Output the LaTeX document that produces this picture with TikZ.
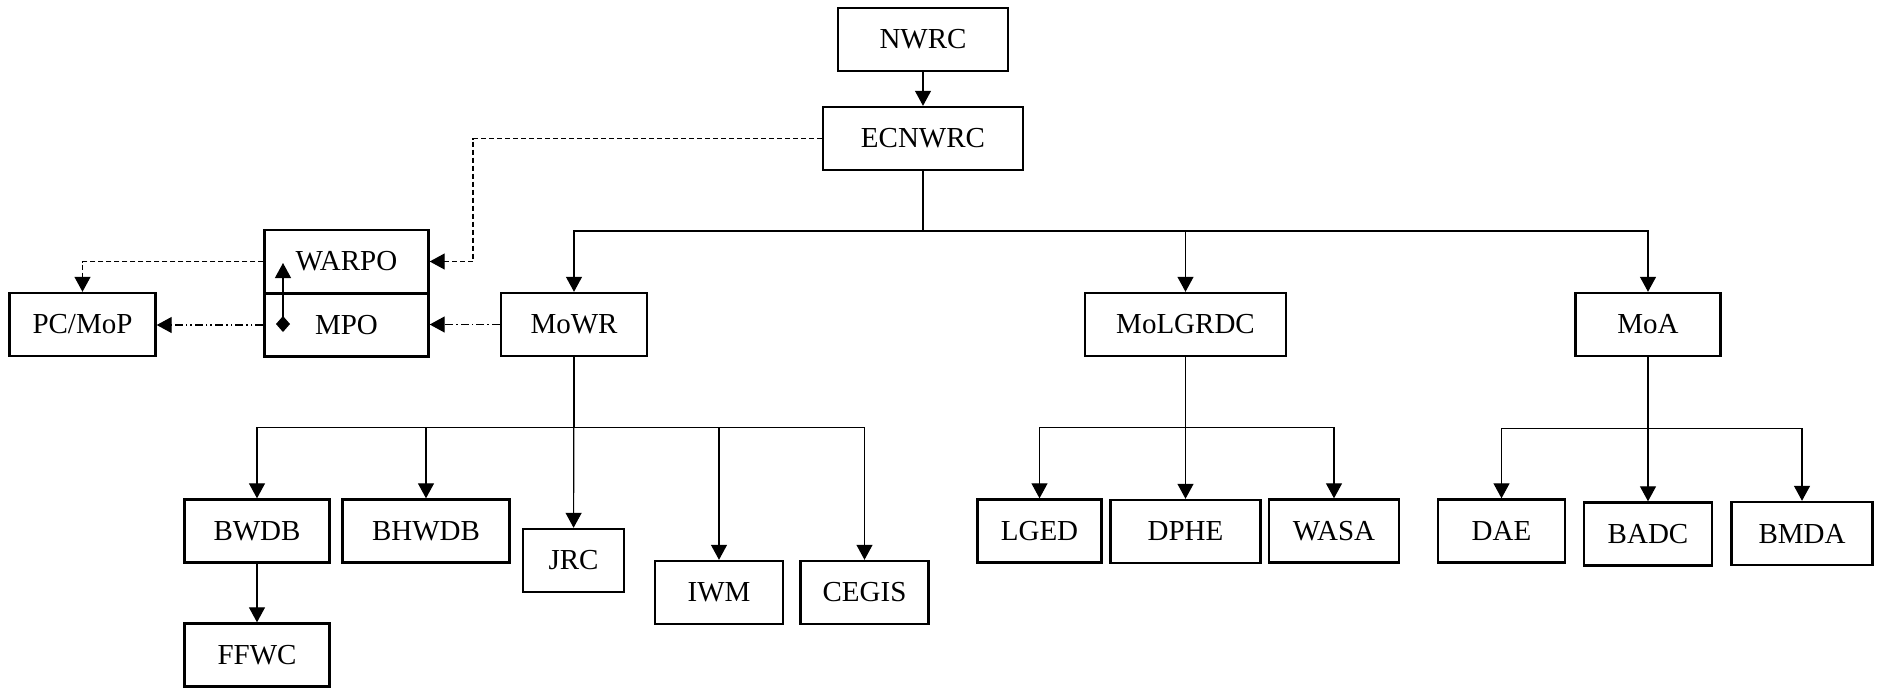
\documentclass[tikz,border=0pt]{standalone}
\usepackage{fontspec}
\setmainfont{Liberation Serif}
\usetikzlibrary{arrows.meta}

\tikzset{
  org/.style={draw, line width=1.2pt, inner sep=0pt, minimum height=31.5pt,
    font=\fontsize{14.5}{17}\selectfont},
  link/.style={line width=0.6pt, -{Triangle[length=7.5pt,width=8pt]}},
  dashlink/.style={link, dash pattern=on 2.5pt off 1.5pt},
  dotlink/.style={link, dash pattern=on 4pt off 1.5pt on 0.8pt off 1.5pt},
  dotdotlink/.style={link, dash pattern=on 4pt off 1.5pt on 0.8pt off 1.5pt on 0.8pt off 1.5pt}
}

\begin{document}
\begin{tikzpicture}[x=0.5pt, y=-0.5pt]
            \useasboundingbox (0,0) rectangle (1879,687);

            % top level
            \node[org, minimum width=85pt] (nwrc) at (923,39.5) {NWRC};
            \node[org, minimum width=100pt] (ecnwrc) at (923,138.5) {ECNWRC};

            % ministries
            \node[org, minimum width=82pt] (warpo) at (346.5,261.5) {WARPO};
            \node[org, minimum width=82pt] (mpo) at (346.5,325) {MPO};
            \node[org, minimum width=73pt] (pcmop) at (82.5,324.5) {PC/MoP};
            \node[org, minimum width=73pt] (mowr) at (574,324.5) {MoWR};
            \node[org, minimum width=100.5pt] (molgrdc) at (1185.5,324.5) {MoLGRDC};
            \node[org, minimum width=72.5pt] (moa) at (1648,324.5) {MoA};

            % agencies
            \node[org, minimum width=72.5pt] (bwdb) at (257,531) {BWDB};
            \node[org, minimum width=83.5pt] (bhwdb) at (426,531) {BHWDB};
            \node[org, minimum width=50.5pt] (jrc) at (573.5,560.5) {JRC};
            \node[org, minimum width=64pt] (iwm) at (719,592.5) {IWM};
            \node[org, minimum width=64pt] (cegis) at (864.5,592.5) {CEGIS};
            \node[org, minimum width=72.5pt] (ffwc) at (257,655) {FFWC};

            \node[org, minimum width=62pt] (lged) at (1039.5,531) {LGED};
            \node[org, minimum width=75pt] (dphe) at (1185.5,531.5) {DPHE};
            \node[org, minimum width=65pt] (wasa) at (1334,531) {WASA};

            \node[org, minimum width=63.5pt] (dae) at (1501.5,531) {DAE};
            \node[org, minimum width=64pt] (badc) at (1648,534) {BADC};
            \node[org, minimum width=70.5pt] (bmda) at (1802,533.5) {BMDA};

            % bus points
            \coordinate (topbus) at (923,231);
            \coordinate (wrbus) at (574,427.7);
            \coordinate (lgbus) at (1185.5,427.7);
            \coordinate (abus) at (1648,428.3);
            \coordinate (bend) at (473,261.5);
            \coordinate (dia) at (283,332);
            \coordinate (diatop) at (283,263);

            \draw[link] (nwrc) -- (ecnwrc);

            \draw[line width=0.6pt] (ecnwrc.south) -- (topbus);
            \foreach \m in {mowr, molgrdc, moa}
              \draw[link] (topbus) -| (\m);

            \draw[line width=0.6pt] (mowr.south) -- (wrbus);
            \foreach \a in {bwdb, bhwdb, iwm, cegis}
              \draw[link] (wrbus) -| (\a);
            \draw[link] (mowr) -- (jrc);
            \draw[link] (bwdb) -- (ffwc);

            \draw[line width=0.6pt] (molgrdc.south) -- (lgbus);
            \foreach \a in {lged, wasa}
              \draw[link] (lgbus) -| (\a);
            \draw[link] (molgrdc) -- (dphe);

            \draw[line width=0.6pt] (moa.south) -- (abus);
            \foreach \a in {dae, bmda}
              \draw[link] (abus) -| (\a);
            \draw[link] (moa) -- (badc);

            % planning links
            \draw[dashlink] (ecnwrc.west) -| (bend) -- (warpo.east);
            \draw[dashlink] (warpo.west) -| (pcmop);
            \draw[dotdotlink] (mpo.west) -- (mpo.west -| pcmop.east);
            \draw[dotlink] (mowr.west) -- (mowr.west -| mpo.east);
            \draw[line width=0.6pt, {Diamond[length=8pt,width=7pt]}-{Triangle[length=7.5pt,width=8pt]}] (dia) -- (diatop);
          \end{tikzpicture}
\end{document}
